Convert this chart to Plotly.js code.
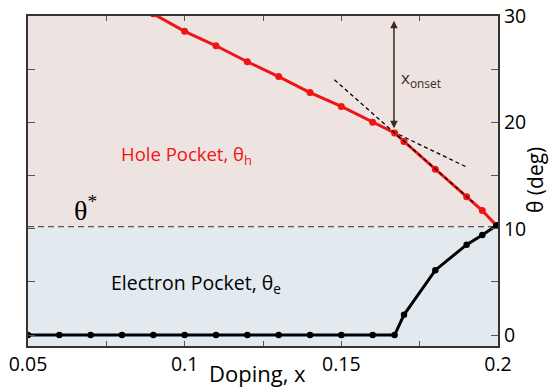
<!DOCTYPE html>
<html>
<head>
<meta charset="utf-8">
<script src="https://cdn.plot.ly/plotly-3.0.1.min.js"></script>
<style>html,body{margin:0;padding:0;background:#fff}#chart{width:551px;height:389px}</style>
</head>
<body>
<div id="chart"></div>
<script>
// Hole pocket (red)
var holeX = [0.09, 0.10, 0.11, 0.12, 0.13, 0.14, 0.15, 0.16, 0.167, 0.17, 0.18, 0.19, 0.195, 0.1995];
var holeY = [30.2, 28.56, 27.2, 25.7, 24.3, 22.8, 21.5, 20.0, 19.0, 18.2, 15.6, 13.0, 11.7, 10.3];
// Electron pocket (black)
var elecX = [0.05, 0.06, 0.07, 0.08, 0.09, 0.10, 0.11, 0.12, 0.13, 0.14, 0.15, 0.16, 0.167, 0.17, 0.18, 0.19, 0.195, 0.1995];
var elecY = [0, 0, 0, 0, 0, 0, 0, 0, 0, 0, 0, 0, 0, 1.9, 6.1, 8.5, 9.4, 10.3];
// Tangent (dashed) lines
var tan1X = [0.12, 0.1903];
var tan1Y = [25.7, 15.75];
var tan2X = [0.1478, 0.192];
var tan2Y = [24.0, 12.5];
// theta* level
var thetaStar = 10.2;
// onset arrow
var onsetX = 0.1668;
var onsetY = [19.45, 29.7];
// ticks
var xTickVals = [0.05, 0.075, 0.1, 0.125, 0.15, 0.175, 0.2];
var xTickText = ['0.05', '', '0.1', '', '0.15', '', '0.2'];
var yTickVals = [0, 5, 10, 15, 20, 25, 30];
var yTickText = ['0', '', '10', '', '20', '', '30'];
var xRange = [0.05, 0.2];
var yRange = [-1.03, 30];

var FONT = 'Open Sans, sans-serif';

var traces = [
  {x: tan1X, y: tan1Y, mode: 'lines', line: {color: '#000', width: 1.3, dash: '4px,3px'}, hoverinfo: 'skip', showlegend: false},
  {x: holeX, y: holeY, mode: 'lines+markers', line: {color: '#f01414', width: 3}, marker: {color: '#f01414', size: 7}, showlegend: false},
  {x: tan2X, y: tan2Y, mode: 'lines', line: {color: '#000', width: 1.3, dash: '4px,3px'}, hoverinfo: 'skip', showlegend: false},
  {x: elecX, y: elecY, mode: 'lines+markers', line: {color: '#000', width: 3}, marker: {color: '#000', size: 6.5}, showlegend: false}
];

var layout = {
  width: 551, height: 389,
  margin: {l: 28, r: 53, t: 16, b: 43, pad: 0},
  paper_bgcolor: '#fff',
  plot_bgcolor: '#fff',
  font: {family: FONT, color: '#000'},
  showlegend: false,
  xaxis: {
    range: xRange, tickvals: xTickVals, ticktext: xTickText,
    ticks: 'inside', ticklen: 5, tickwidth: 1, tickcolor: '#555',
    showline: true, linecolor: '#333', linewidth: 2, mirror: 'ticks',
    showgrid: false, zeroline: false,
    tickfont: {size: 19.5, family: FONT}
  },
  yaxis: {
    range: yRange, side: 'right', tickvals: yTickVals, ticktext: yTickText,
    ticks: 'inside', ticklen: 7, tickwidth: 1, tickcolor: '#555',
    showline: true, linecolor: '#333', linewidth: 2, mirror: 'ticks',
    showgrid: false, zeroline: false,
    tickfont: {size: 19.5, family: FONT}
  },
  shapes: [
    {type: 'rect', xref: 'paper', yref: 'y', x0: 0, x1: 1, y0: thetaStar, y1: yRange[1], fillcolor: '#ede4e2', line: {width: 0}, layer: 'below'},
    {type: 'rect', xref: 'paper', yref: 'y', x0: 0, x1: 1, y0: yRange[0], y1: thetaStar, fillcolor: '#e3eaef', line: {width: 0}, layer: 'below'},
    {type: 'line', xref: 'paper', yref: 'y', x0: 0, x1: 1, y0: thetaStar, y1: thetaStar, line: {color: '#555', width: 1.3, dash: '6px,4px'}, layer: 'below'}
  ],
  annotations: [
    {x: onsetX, y: onsetY[0], ax: onsetX, ay: onsetY[1], xref: 'x', yref: 'y', axref: 'x', ayref: 'y',
     text: '', showarrow: true, arrowhead: 2, startarrowhead: 2, arrowside: 'end+start', arrowsize: 1, arrowwidth: 1.5, arrowcolor: '#3b2a1a'},
    {x: 0.1683, y: 24.1, xref: 'x', yref: 'y', xanchor: 'left', yanchor: 'middle', showarrow: false,
     text: 'x<sub>onset</sub>', font: {size: 17, color: '#3b2a1a', family: FONT}},
    {x: 0.0792, y: 16.9, xref: 'x', yref: 'y', xanchor: 'left', yanchor: 'middle', showarrow: false,
     text: 'Hole Pocket, θ<sub>h</sub>', font: {size: 18.5, color: '#f01414', family: FONT}},
    {x: 0.0760, y: 4.85, xref: 'x', yref: 'y', xanchor: 'left', yanchor: 'middle', showarrow: false,
     text: 'Electron Pocket, θ<sub>e</sub>', font: {size: 19.5, color: '#000', family: FONT}},
    {x: 0.064, y: 11.9, xref: 'x', yref: 'y', xanchor: 'left', yanchor: 'middle', showarrow: false,
     text: 'θ<sup>*</sup>', font: {size: 28, color: '#000', family: 'Liberation Serif, serif'}},
    {x: (257 - 28) / 470, y: -(373 - 346) / 330, xref: 'paper', yref: 'paper', xanchor: 'center', yanchor: 'middle', showarrow: false,
     text: 'Doping, x', font: {size: 22, family: FONT}},
    {x: (535 - 28) / 470, y: (346 - 180) / 330, xref: 'paper', yref: 'paper', xanchor: 'center', yanchor: 'middle', showarrow: false,
     textangle: -90, text: 'θ (deg)', font: {size: 21, family: FONT}}
  ]
};

Plotly.newPlot('chart', traces, layout, {displayModeBar: false, staticPlot: true});
</script>
</body>
</html>
